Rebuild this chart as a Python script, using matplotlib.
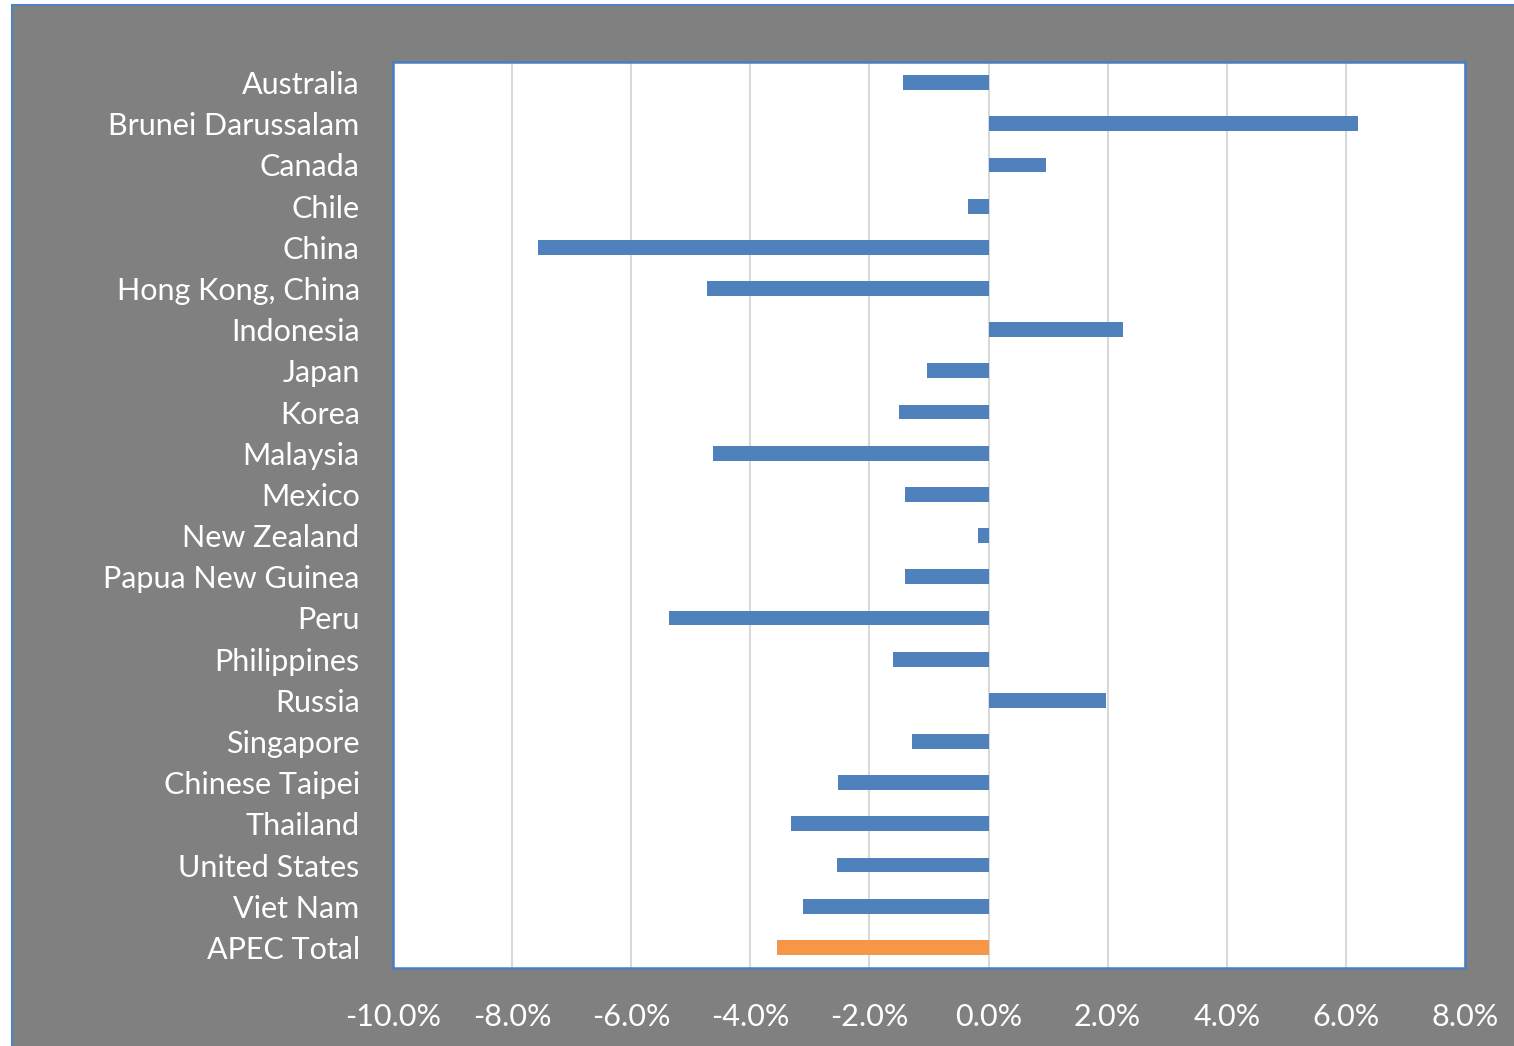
import matplotlib.pyplot as plt
from matplotlib.patches import Rectangle
from matplotlib.ticker import FuncFormatter

economies = ["Australia", "Brunei Darussalam", "Canada", "Chile", "China",
             "Hong Kong, China", "Indonesia", "Japan", "Korea", "Malaysia",
             "Mexico", "New Zealand", "Papua New Guinea", "Peru", "Philippines",
             "Russia", "Singapore", "Chinese Taipei", "Thailand", "United States",
             "Viet Nam", "APEC Total"]
change = [-1.44, 6.20, 0.96, -0.34, -7.57, -4.73, 2.25, -1.04, -1.51, -4.62,
          -1.41, -0.18, -1.41, -5.36, -1.60, 1.98, -1.29, -2.52, -3.32, -2.55,
          -3.11, -3.56]

plt.rcParams['font.family'] = ['Lato', 'DejaVu Sans']

fig = plt.figure(figsize=(15.14, 10.46), dpi=100)
fig.patch.set_facecolor("white")

# grey chart area with blue outline, cut by the image edges
W, H = 1514, 1046
bg = Rectangle((12 / W, -0.01), 1.01, (H - 5) / H + 0.01, transform=fig.transFigure,
               facecolor="#808080", edgecolor="#4F81BD", linewidth=1.5, zorder=-5)
fig.add_artist(bg)

ax = fig.add_axes([393 / W, 1 - 968 / H, (1465 - 393) / W, (968 - 62) / H])
ax.set_zorder(2)
ax.set_facecolor("white")

colors = ["#4F81BD"] * (len(economies) - 1) + ["#F79646"]
ypos = list(range(len(economies)))
ax.barh(ypos, change, height=0.36, color=colors, zorder=3)

ax.set_xlim(-10, 8)
ax.set_xticks(range(-10, 9, 2))
ax.xaxis.set_major_formatter(FuncFormatter(lambda v, p: f"{v:.1f}%"))
ax.set_ylim(len(economies) - 0.5, -0.5)
ax.set_yticks(ypos)
ax.set_yticklabels(economies)

ax.grid(axis="x", color="#D9D9D9", linewidth=1.5, zorder=0)
ax.tick_params(axis="both", length=0, colors="white", labelsize=22)
ax.tick_params(axis="x", pad=25)
ax.tick_params(axis="y", pad=24)
for s in ax.spines.values():
    s.set_color("#4A7EC0")
    s.set_linewidth(1.8)

fig.savefig("out.png", dpi=100)
